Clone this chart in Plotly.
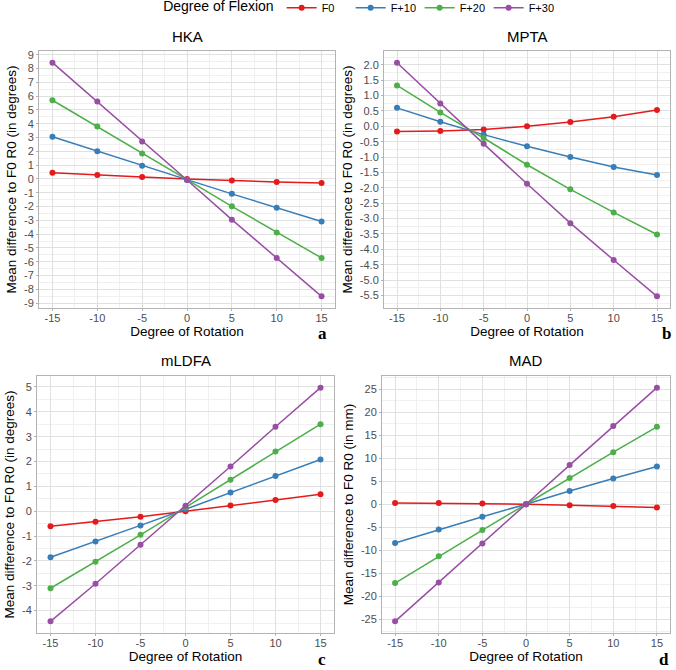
import plotly.graph_objects as go
from plotly.subplots import make_subplots

# x values (degree of rotation) shared by all panels
rotation = [-15, -10, -5, 0, 5, 10, 15]
flexion = ['F0', 'F+10', 'F+20', 'F+30']
colors = ['#E41A1C', '#377EB8', '#4DAF4A', '#984EA3']

# mean difference to F0 R0
hka = {
    'F0':   [0.45, 0.28, 0.15, 0.0, -0.12, -0.22, -0.30],
    'F+10': [3.05, 2.00, 0.95, -0.05, -1.08, -2.08, -3.08],
    'F+20': [5.70, 3.80, 1.85, -0.05, -1.98, -3.88, -5.72],
    'F+30': [8.42, 5.60, 2.72, -0.08, -2.95, -5.72, -8.50],
}
mpta = {
    'F0':   [-0.17, -0.15, -0.10, 0.0, 0.14, 0.31, 0.53],
    'F+10': [0.60, 0.15, -0.27, -0.65, -1.00, -1.32, -1.58],
    'F+20': [1.33, 0.45, -0.38, -1.25, -2.05, -2.80, -3.52],
    'F+30': [2.07, 0.74, -0.57, -1.87, -3.15, -4.35, -5.53],
}
mldfa = {
    'F0':   [-0.61, -0.42, -0.22, 0.0, 0.23, 0.45, 0.68],
    'F+10': [-1.85, -1.22, -0.57, 0.08, 0.75, 1.42, 2.08],
    'F+20': [-3.10, -2.03, -0.95, 0.15, 1.27, 2.40, 3.50],
    'F+30': [-4.43, -2.92, -1.35, 0.22, 1.80, 3.40, 4.97],
}
mad = {
    'F0':   [0.30, 0.25, 0.15, 0.0, -0.20, -0.40, -0.70],
    'F+10': [-8.4, -5.5, -2.7, 0.0, 2.9, 5.6, 8.2],
    'F+20': [-17.1, -11.3, -5.6, 0.0, 5.7, 11.3, 16.8],
    'F+30': [-25.4, -17.0, -8.5, 0.0, 8.5, 17.0, 25.3],
}

titles = ['HKA', 'MPTA', 'mLDFA', 'MAD']
letters = ['a', 'b', 'c', 'd']
y_titles = ['Mean difference to F0 R0 (in degrees)'] * 3 + ['Mean difference to F0 R0 (in mm)']

# tick labels
x_ticks = [-15, -10, -5, 0, 5, 10, 15]
hka_ticks = list(range(-9, 10))
mpta_ticks = [-5.5, -5.0, -4.5, -4.0, -3.5, -3.0, -2.5, -2.0, -1.5, -1.0, -0.5, 0.0, 0.5, 1.0, 1.5, 2.0]
mldfa_ticks = [-4, -3, -2, -1, 0, 1, 2, 3, 4, 5]
mad_ticks = [-25, -20, -15, -10, -5, 0, 5, 10, 15, 20, 25]

panels = [hka, mpta, mldfa, mad]
y_tick_sets = [hka_ticks, mpta_ticks, mldfa_ticks, mad_ticks]
y_fmt = ['{:d}', '{:.1f}', '{:d}', '{:d}']
y_minor = [0.5, 0.25, 0.5, 2.5]

W, H = 676, 670
# plot areas in pixels: (left, right, top, bottom)
boxes = [(39, 335, 51, 308), (384, 670, 51, 308), (37, 334, 376, 633), (382, 670, 376, 633)]
letter_dx = [13, 4, 12, 6]

fig = make_subplots(rows=2, cols=2)

for i, data in enumerate(panels):
    r, c = i // 2 + 1, i % 2 + 1
    for name, col in zip(flexion, colors):
        fig.add_trace(go.Scatter(
            x=rotation, y=data[name], name=name, mode='lines+markers',
            line=dict(color=col, width=1.5), marker=dict(color=col, size=6),
            showlegend=(i == 0), legendgroup=name,
        ), row=r, col=c)

    allv = [v for s in data.values() for v in s]
    lo, hi = min(allv), max(allv)
    pad = (hi - lo) * 0.05
    l, rgt, t, b = boxes[i]
    ticks = y_tick_sets[i]
    fig.update_xaxes(
        domain=[l / W, rgt / W], range=[-16.5, 16.5],
        tickvals=x_ticks, ticktext=[str(v) for v in x_ticks],
        title=dict(text='Degree of Rotation', font=dict(size=13.5, color='#000000'), standoff=2),
        row=r, col=c,
    )
    fig.update_yaxes(
        domain=[1 - b / H, 1 - t / H], range=[lo - pad, hi + pad],
        tickvals=ticks, ticktext=[y_fmt[i].format(v) for v in ticks],
        minor=dict(showgrid=True, gridcolor='#F0F0F0', gridwidth=0.6, dtick=y_minor[i], tick0=0),
        title=dict(text=y_titles[i], font=dict(size=13.5, color='#000000'), standoff=4),
        row=r, col=c,
    )
    fig.add_annotation(
        text=titles[i], x=(l + rgt) / 2 / W, y=1 - (t - 15) / H, xref='paper', yref='paper',
        showarrow=False, font=dict(size=15, color='#000000'), xanchor='center', yanchor='middle',
    )
    fig.add_annotation(
        text='<b>%s</b>' % letters[i], x=(rgt - letter_dx[i]) / W, y=1 - (b + 26) / H,
        xref='paper', yref='paper', showarrow=False,
        font=dict(size=17, color='#000000', family='Liberation Serif'),
        xanchor='center', yanchor='middle',
    )

fig.update_xaxes(
    showline=True, linecolor='#B3B3B3', linewidth=1, mirror=True,
    showgrid=True, gridcolor='#E0E0E0', gridwidth=0.8,
    minor=dict(showgrid=True, gridcolor='#F0F0F0', gridwidth=0.6, dtick=2.5, tick0=0),
    ticks='outside', ticklen=2, tickcolor='#B3B3B3', ticklabelstandoff=-2,
    tickfont=dict(size=11, color='#4D4D4D'), zeroline=False, automargin=False,
)
fig.update_yaxes(
    showline=True, linecolor='#B3B3B3', linewidth=1, mirror=True,
    showgrid=True, gridcolor='#E0E0E0', gridwidth=0.8,
    ticks='outside', ticklen=2, tickcolor='#B3B3B3',
    tickfont=dict(size=11, color='#4D4D4D'), zeroline=False, automargin=False,
)

fig.update_layout(
    width=W, height=H,
    margin=dict(l=0, r=0, t=0, b=0, autoexpand=False),
    paper_bgcolor='white', plot_bgcolor='white',
    font=dict(family='Liberation Sans, Arial, sans-serif', color='#000000'),
    legend=dict(
        orientation='h', x=0.532, xanchor='center', y=1.01, yanchor='top',
        title=dict(text='Degree of Flexion', font=dict(size=14)),
        font=dict(size=11), itemwidth=30, entrywidth=24,
        tracegroupgap=0,
    ),
)

# drop the default page margin so the figure fills the window
fig.write_html('out.html', config={'displayModeBar': False},
               post_script="document.body.style.margin='0px';")
